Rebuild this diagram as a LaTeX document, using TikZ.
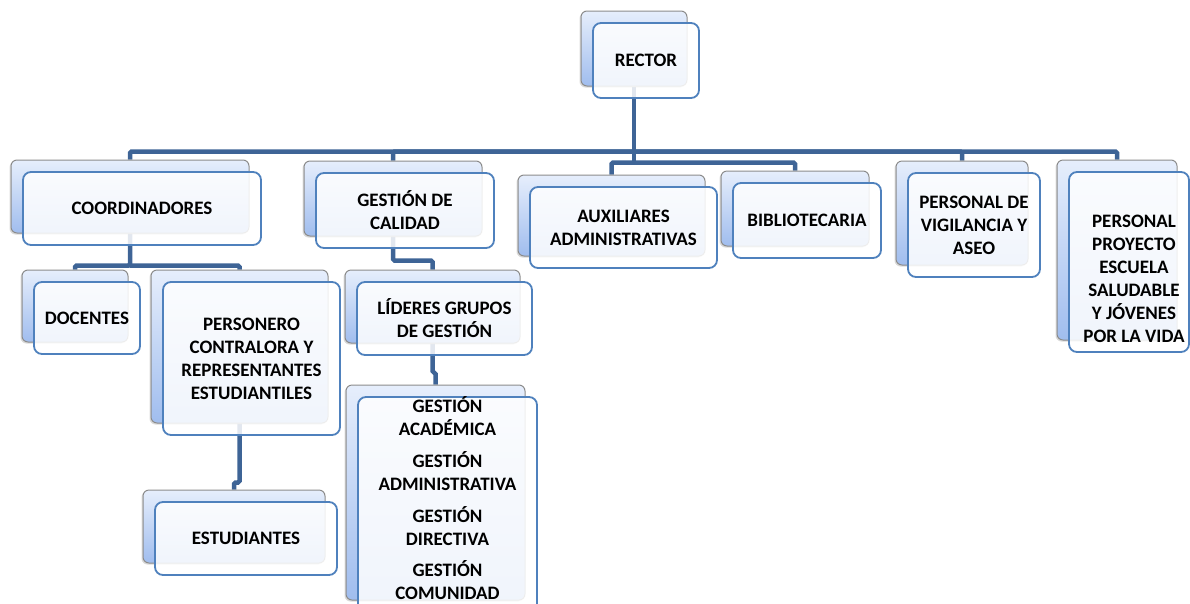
\documentclass[tikz,border=0pt]{standalone}
\usepackage{fontspec}
\setmainfont{Carlito}
\usetikzlibrary{backgrounds,shadows}

\definecolor{boxblue}{RGB}{79,129,189}
\definecolor{linkblue}{RGB}{62,100,150}
\definecolor{backgray}{RGB}{140,140,140}
\definecolor{backtop}{RGB}{230,238,252}
\definecolor{backbot}{RGB}{160,189,238}

\tikzset{
  back/.style={draw=backgray, line width=1pt, rounded corners=6pt,
    top color=backtop, bottom color=backbot, inner sep=0pt,
    drop shadow={shadow xshift=-1.5pt, shadow yshift=-1.5pt, opacity=.3}},
  front/.style={draw=boxblue, line width=1.8pt, rounded corners=8pt,
    fill=white, fill opacity=.85, text opacity=1, align=center, inner sep=0pt,
    font=\fontsize{19}{23}\selectfont\bfseries},
  label text/.style={align=center, inner sep=0pt,
    font=\fontsize{19}{23}\selectfont\bfseries},
  link/.style={draw=linkblue, line width=4.5pt, rounded corners=1.5pt},
  boxsize/.style 2 args={minimum width=#1pt, minimum height=#2pt},
}

\begin{document}
\begin{tikzpicture}[x=1pt, y=-1pt]
  \clip (0,0) rectangle (1190,603);

  \node[back, boxsize={106}{75}] (rectorB) at (634,48.5) {};
  \node[front, boxsize={106}{75}] (rector) at ([shift={(12,12)}]rectorB.center) {RECTOR};

  \node[back, boxsize={238}{73}] (coordB) at (130,196.5) {};
  \node[front, boxsize={238}{73}] (coord) at ([shift={(12,12)}]coordB.center) {COORDINADORES};

  \node[back, boxsize={178}{75}] (calB) at (393,198.5) {};
  \node[front, boxsize={178}{75}] (cal) at ([shift={(12,12)}]calB.center) {GESTIÓN DE\\CALIDAD};

  \node[back, boxsize={187}{81}] (auxB) at (611.5,215.5) {};
  \node[front, boxsize={187}{81}] (aux) at ([shift={(12,12)}]auxB.center) {AUXILIARES\\ADMINISTRATIVAS};

  \node[back, boxsize={148}{75}] (biblioB) at (795,208.5) {};
  \node[front, boxsize={148}{75}] (biblio) at ([shift={(12,12)}]biblioB.center) {BIBLIOTECARIA};

  \node[back, boxsize={132}{104}] (vigB) at (962,213) {};
  \node[front, boxsize={132}{104}] (vig) at ([shift={(12,12)}]vigB.center) {PERSONAL DE\\VIGILANCIA Y\\ASEO};

  \node[back, boxsize={120}{180}] (proyB) at (1117,250) {};
  \node[front, boxsize={120}{180}] (proy) at ([shift={(12,12)}]proyB.center) {};
  \node[label text] (proyT) at (1134,279) {PERSONAL\\PROYECTO\\ESCUELA\\SALUDABLE\\Y JÓVENES\\POR LA VIDA};

  \node[back, boxsize={106}{72}] (docB) at (75,306) {};
  \node[front, boxsize={106}{72}] (doc) at ([shift={(12,12)}]docB.center) {DOCENTES};

  \node[back, boxsize={177}{153}] (persB) at (239.5,346.5) {};
  \node[front, boxsize={177}{153}] (pers) at ([shift={(12,12)}]persB.center) {PERSONERO\\CONTRALORA Y\\REPRESENTANTES\\ESTUDIANTILES};

  \node[back, boxsize={182}{73}] (estB) at (234,526.5) {};
  \node[front, boxsize={182}{73}] (est) at ([shift={(12,12)}]estB.center) {ESTUDIANTES};

  \node[back, boxsize={175}{73}] (lidB) at (432.5,306.5) {};
  \node[front, boxsize={175}{73}] (lid) at ([shift={(12,12)}]lidB.center) {LÍDERES GRUPOS\\DE GESTIÓN};

  \node[back, boxsize={179}{215}] (gesB) at (435.5,492.5) {};
  \node[front, boxsize={179}{215}] (ges) at ([shift={(12,12)}]gesB.center) {};
  \node[label text, anchor=north] (gesT) at (447.5,396) {GESTIÓN\\ACADÉMICA\\[9pt]GESTIÓN\\ADMINISTRATIVA\\[9pt]GESTIÓN\\DIRECTIVA\\[8pt]GESTIÓN\\COMUNIDAD};

  \begin{scope}[on background layer]
    \coordinate (bus) at ([yshift=-65pt]rectorB.south);
    \coordinate (bus2) at ([yshift=-76pt]rectorB.south);
    \draw[link] (rectorB.south) -- (bus2);
    \draw[link] (bus) -| (coordB.north);
    \draw[link] (bus) -| (calB.north);
    \draw[link] (bus) -| (vigB.north);
    \draw[link] (bus) -| (proyB.north);
    \draw[link] (bus2) -| (auxB.north);
    \draw[link] (bus2) -| (biblioB.north);

    \draw[link] (coordB.south) -- ++(0,32) coordinate (cbus) -| (docB.north);
    \draw[link] (cbus) -| (persB.north);
    \draw[link] (persB.south) -- ++(0,59) -| (estB.north);

    \draw[link] (calB.south) -- ++(0,24) -| (lidB.north);
    \draw[link] (lidB.south) -- ++(0,29) -| (gesB.north);
  \end{scope}
\end{tikzpicture}
\end{document}
